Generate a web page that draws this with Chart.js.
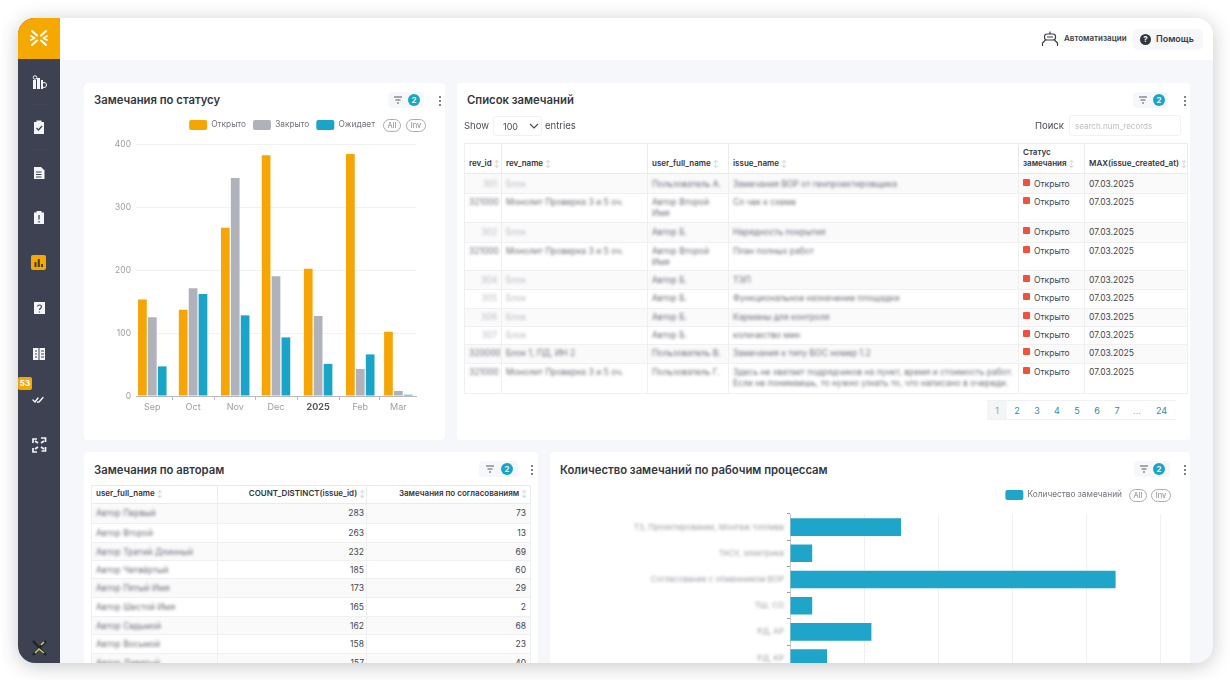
<!DOCTYPE html>
<html lang="ru"><head><meta charset="utf-8">
<script src="https://cdn.jsdelivr.net/npm/chart.js@4"></script>
<style>
html,body{margin:0;padding:0;background:#fff;width:1230px;height:680px;overflow:hidden;font-family:Inter,"Noto Sans",sans-serif;color:#33363d}
.abs,.win,.card,.wrap{position:absolute}
.win{left:18px;top:18px;width:1195px;height:645px;border-radius:17px;overflow:hidden;background:#f6f7fb;box-shadow:0 3px 20px rgba(0,0,0,.22)}
.page{position:absolute;left:-18px;top:-18px;width:1230px;height:680px}
.side{position:absolute;left:18px;top:18px;width:42px;height:645px;background:#3d4152}
.logo{position:absolute;left:18px;top:18px;width:42px;height:41px;background:#f5a800}
.top{position:absolute;left:60px;top:18px;width:1153px;height:42px;background:#fff}
.card{background:#fff;border-radius:4px;overflow:hidden}
.t{position:absolute;font-weight:600;font-size:11.300px;color:#34373e;white-space:nowrap;line-height:14px}
.pill{position:absolute;height:16px;border-radius:4px;background:#f6f7f9}
.badge{position:absolute;width:12px;height:12px;border-radius:50%;background:#1aa5c8;color:#fff;font-size:8px;font-weight:600;line-height:12px;text-align:center}
.keb{position:absolute;width:2px;height:2px;border-radius:1px;background:#55585f;box-shadow:0 4px 0 #55585f,0 8px 0 #55585f}
.txt{position:absolute;white-space:nowrap;font-size:9px;line-height:11px;color:#4a4d55}
.lg{position:absolute;height:13px;line-height:12px;box-sizing:border-box;border:1px solid #a9abb0;border-radius:7px;font-size:7.5px;color:#85878d;text-align:center}
table{border-collapse:separate;border-spacing:0;table-layout:fixed;position:absolute;font-size:8.5px;color:#44474e;background:#fff}
th{font-weight:600;text-align:left;vertical-align:bottom;padding:0 3px 4px 4px;font-size:8px;color:#33363d;border-bottom:1.5px solid #eaebed;border-right:1px solid #eaebed;border-top:1px solid #eaebed;line-height:11px;white-space:nowrap;overflow:hidden;box-sizing:border-box}
th:first-child,td:first-child{border-left:1px solid #eeeff0}
td{padding:0 4px;vertical-align:top;border-bottom:1px solid #f0f0f2;border-right:1px solid #eeeff0;line-height:11px;box-sizing:border-box;overflow:hidden}
tr.s td{background:#fafafb}
.so{color:#c9cbd0;font-size:7px;font-weight:400;margin-left:2px}
.b{filter:blur(1.8px);color:#6b6e76;display:block}
.b.l{color:#b8bac0}
.st{display:inline-block;width:7px;height:7px;border-radius:1px;background:#f0523d;margin-right:4px;vertical-align:1px}
.pg{position:absolute;top:400px;height:20px;width:20px;line-height:20px;text-align:center;font-size:9px;color:#2e8aa3;background:#fff;border-top:1px solid #f0f1f3;border-bottom:1px solid #f0f1f3;box-sizing:border-box}
</style></head><body>
<div class="win"><div class="page">
<div class="side"></div>
<div class="logo"></div>
<div class="top"></div>
<svg class="abs" style="left:18px;top:18px" width="42" height="645" viewBox="18 18 42 645" fill="none">
 <g stroke="#fff" stroke-width="2.400" stroke-linecap="round" stroke-linejoin="round">
  <path d="M32 31l5 4.500M46 31l-5 4.500M32 45l5-4.500M46 45l-5-4.500M31 36l3.500 2-3.500 2M47 36l-3.500 2 3.500 2" stroke-width="2"/>
 </g>
 <g fill="#f4f5f8">
  <circle cx="35" cy="77.500" r="1.800" fill="none" stroke="#f4f5f8"/><rect x="33" y="80" width="3" height="9"/><rect x="37" y="78" width="3" height="11"/><rect x="41" y="80" width="2" height="9"/><circle cx="44" cy="85" r="2.500" fill="none" stroke="#f4f5f8"/>
  <path d="M34 122h2.500v-1.500h5V122H44v12H34z"/>
  <path d="M34 167h7l3.500 3.500V179H34z"/>
  <path d="M34 212.500h2.500V211h5v1.500H44V224H34z"/>
  <path d="M34 302h11v12H34z"/>
  <path d="M33 348h5.500v12H33zM39.500 348H45v12h-5.500z"/>
  <rect x="31" y="255" width="15" height="15" rx="2" fill="#f5a800"/>
  <rect x="34.500" y="262" width="2" height="5" fill="#4a3b10"/><rect x="37.800" y="259" width="2" height="8" fill="#4a3b10"/><rect x="41" y="264" width="2" height="3" fill="#4a3b10"/>
  <rect x="18" y="377" width="14" height="13" rx="2" fill="#f5a800"/>
 </g>
 <path d="M36.500 128l2 2 3.500-4" stroke="#3d4152" stroke-width="1.300"/>
 <path d="M36 172h5.500M36 174.500h5.500M36 177h5.500" stroke="#3d4152" stroke-width="1"/>
 <path d="M39 215v4.500M39 221v1.500" stroke="#3d4152" stroke-width="1.300"/>
 <path d="M37.500 306.500c.3-2 4-2 4 .2 0 1.600-2 1.500-2 3.300M39.500 311.500v1" stroke="#3d4152" stroke-width="1.200"/>
 <path d="M35 351h2M35 354h2M35 357h2M41 351h3M41 354h3M41 357h3" stroke="#3d4152" stroke-width="1"/>
 <path d="M33 400l2 2 3-4M39 402l4-4.500M37.500 402l.3.300" stroke="#fff" stroke-width="1.300" stroke-linecap="round"/>
 <path d="M33 443v-4h4M41 438h4.500v4M45.500 447v4h-4M37 452h-4v-4M35 441l3 2M44 441l-3 2M35 449l3-2M44 449l-3-2" stroke="#f4f5f8" stroke-width="1.700"/>
 <path d="M33 641l13 14M46 641l-13 14" stroke="#1f2028" stroke-width="2.200"/>
 <path d="M35 653l4-4 5 4M44 642l-3 3" stroke="#c6c96a" stroke-width="1.600"/>
 <path d="M30 104.500h18M30 149.500h18M30 195h18M30 240h18M30 285h18M30 331h18M30 422h18" stroke="#414556" stroke-width="1"/>
</svg>
<div class="txt" style="left:18px;top:378px;width:14px;text-align:center;font-size:8px;font-weight:700;color:#fff">53</div>

<svg class="abs" style="left:1040px;top:29px" width="20" height="20" fill="none" stroke="#3a3d44" stroke-width="1.200"><rect x="4.500" y="5" width="11" height="6" rx="2.500"/><path d="M10 5V2.500M2.500 17v-3l3-3M17.500 17v-3l-3-3M7 8h6"/></svg>
<div class="txt" style="left:1064px;top:33px;font-size:8px;font-weight:600;color:#3a3d44">Автоматизации</div>
<div class="abs" style="left:1133px;top:29px;width:70px;height:21px;background:#f6f7fa;border-radius:5px"></div>
<div class="abs" style="left:1140px;top:34px;width:11px;height:11px;border-radius:50%;background:#33353b;color:#fff;font-size:8px;font-weight:700;line-height:11px;text-align:center">?</div>
<div class="txt" style="left:1156px;top:33px;font-size:9px;font-weight:600;color:#3a3d44">Помощь</div>

<div class="card" style="left:84px;top:83px;width:361px;height:357px"></div>
<div class="card" style="left:457px;top:83px;width:733px;height:357px"></div>
<div class="card" style="left:84px;top:452px;width:454px;height:220px"></div>
<div class="card" style="left:550px;top:452px;width:640px;height:220px"></div>

<div class="t" style="left:94px;top:93px">Замечания по статусу</div>
<div class="t" style="left:467px;top:93px">Список замечаний</div>
<div class="t" style="left:94px;top:463px">Замечания по авторам</div>
<div class="t" style="left:560px;top:463px">Количество замечаний по рабочим процессам</div>

<div id="widgets"></div>

<div class="wrap" style="left:84px;top:100px;width:340px;height:322px"><canvas id="statusChart"></canvas></div>
<div class="lg" style="left:383px;top:119px;width:18px">All</div>
<div class="lg" style="left:406px;top:119px;width:20px">Inv</div>

<div class="txt" style="left:464px;top:120px;font-size:9.500px">Show</div>
<div class="abs" style="left:493px;top:116px;width:49px;height:20px;border:1px solid #f1f2f4;border-radius:3px;box-sizing:border-box"></div>
<div class="txt" style="left:503px;top:121px;">100</div>
<svg class="abs" style="left:529px;top:122px" width="10" height="8" fill="none" stroke="#44474e" stroke-width="1.100"><path d="M1 2l4 4 4-4"/></svg>
<div class="txt" style="left:545px;top:120px;font-size:9.500px">entries</div>
<div class="txt" style="left:1035px;top:120px;font-size:9.500px">Поиск</div>
<div class="abs" style="left:1069px;top:115px;width:112px;height:21px;border:1px solid #f1f2f4;border-radius:3px;box-sizing:border-box"></div>
<div class="txt" style="left:1075px;top:121px;font-size:8px;color:#bcbec4">search.num_records</div>
<table id="listTable" style="left:464px;top:143px;width:724px"></table>
<div id="pager"></div>

<table id="authorTable" style="left:91px;top:485px;width:440px"></table>

<div class="wrap" style="left:550px;top:475px;width:640px;height:204px"><canvas id="processChart"></canvas></div>
<div class="lg" style="left:1129px;top:489px;width:18px">All</div>
<div class="lg" style="left:1151px;top:489px;width:20px">Inv</div>
</div></div>
<script>
const MONTHS=['Sep','Oct','Nov','Dec','2025','Feb','Mar'];
const MONTH_DAYS=[0,30,61,91,122,153,181];
const OPEN=[153,137,267,382,202,384,102];
const CLOSED=[125,171,346,190,127,43,8];
const WAITING=[47,162,128,93,51,66,2];
const STATUS_TICKS=[0,100,200,300,400];
const PROCESSES=['ТЗ, Проектирование, Монтаж топлива','ТАСУ, электрика','Согласование с обменником ВОР','ТШ, СО','РД, АР','РД, КР'];
const PROCESS_COUNTS=[75,15,220,15,55,25];
const PROCESS_TICKS=[0,50,100,150,200,250];

const AUTHORS=['Автор Первый','Автор Второй','Автор Третий Длинный','Автор Четвёртый','Автор Пятый Имя','Автор Шестой Имя','Автор Седьмой','Автор Восьмой','Автор Девятый'];
const AUTHOR_ISSUES=[283,263,232,185,173,165,162,158,157];
const AUTHOR_APPROVALS=[73,13,69,60,29,2,68,23,40];

const REV_IDS=['301','321000','302','321000','304','305','306','307','320000','321000'];
const REV_NAMES=['Блок','Монолит Проверка 3 и 5 оч.','Блок','Монолит Проверка 3 и 5 оч.','Блок','Блок','Блок','Блок','Блок 1, ПД, ИН 2','Монолит Проверка 3 и 5 оч.'];
const USERS=['Пользователь А.','Автор Второй Имя','Автор Б.','Автор Второй Имя','Автор Б.','Автор Б.','Автор Б.','Автор Б.','Пользователь В.','Пользователь Г.'];
const ISSUES=['Замечания ВОР от генпроектировщика','Сл чек к схеме','Нарядность покрытия','План полных работ','ТЭП','Функциональное назначение площадки','Карманы для контроля','количество мин','Замечания к типу ВОС номер 1.2','Здесь не хватает подрядчиков на пункт, время и стоимость работ. Если не понимаешь, то нужно узнать то, что написано в очереди.'];
const DATES=Array(10).fill('07.03.2025');
const LIST_HEIGHTS=[20,29,20,28,19,19,18,18,19,30];
const LIST_PADS=[5,3,4,3,4,3,3,3,3,3];
const AUTHOR_HEIGHTS=[20,19,18,18,19,19,18,19,19];
const PAGES=['1','2','3','4','5','6','7','...','24'];

const el=(id)=>document.getElementById(id);
const SORT='<span class="so">↕</span>';
const WIDGETS=[[388,92,36,398,414,440,96],[1133,92,35,1143,1159,1185,96],[479,461,39,490,507,532,465],[1134,461,36,1144,1159,1185,465]];
el('widgets').innerHTML=WIDGETS.map(([x,y,w,ix,bx,kx,ky])=>
 `<div class="pill" style="left:${x}px;top:${y}px;width:${w}px"></div>`+
 `<svg class="abs" style="left:${ix-5}px;top:${y+4}px" width="10" height="8" stroke="#55585f" stroke-width="1.100"><path d="M1 1h8M2.500 4h5M4 7h2"/></svg>`+
 `<div class="badge" style="left:${bx-6}px;top:${y+2}px">2</div>`+
 `<div class="keb" style="left:${kx-1}px;top:${ky}px"></div>`).join('');
const LIST_COLS=[38,146,81,290,66,103];
el('listTable').innerHTML='<colgroup>'+LIST_COLS.map(w=>`<col style="width:${w}px">`).join('')+'</colgroup>'+
 '<tr style="height:31px">'+['rev_id','rev_name','user_full_name','issue_name','Статус<br>замечания','MAX(issue_created_at)'].map(h=>`<th>${h}${SORT}</th>`).join('')+'</tr>'+
 ISSUES.map((_,i)=>{const l=(REV_NAMES[i]==='Блок')?' l':'';const p=`style="padding-top:${LIST_PADS[i]}px"`;return `<tr class="${i%2?'':'s'}" style="height:${LIST_HEIGHTS[i]}px">`+
  `<td ${p}><span class="b${l}" style="text-align:right">${REV_IDS[i]}</span></td>`+
  `<td ${p}><span class="b${l}">${REV_NAMES[i]}</span></td>`+
  `<td ${p}><span class="b">${USERS[i]}</span></td>`+
  `<td ${p}><span class="b">${ISSUES[i]}</span></td>`+
  `<td ${p}><i class="st"></i>Открыто</td>`+
  `<td ${p}>${DATES[i]}</td></tr>`}).join('');
el('pager').innerHTML=PAGES.map((p,i)=>{const x=987+i*20;return `<div class="pg" style="left:${x}px;${i?'':'background:#f4f5f6;color:#9a9da3;'}${i==7?'color:#b0b2b8;':''}${i==8?'width:29px;':''}">${p}</div>`}).join('');
el('authorTable').innerHTML='<colgroup><col style="width:127px"><col style="width:149px"><col style="width:164px"></colgroup>'+
 `<tr style="height:19px"><th>user_full_name${SORT}</th><th style="text-align:right;padding-right:1px">COUNT_DISTINCT(issue_id)${SORT}</th><th style="text-align:right">Замечания по согласованиям${SORT}</th></tr>`+
 AUTHORS.map((a,i)=>`<tr class="${i%2?'':'s'}" style="height:${AUTHOR_HEIGHTS[i]}px"><td style="padding-top:4px"><span class="b">${a}</span></td><td style="padding-top:4px;padding-right:2px;text-align:right">${AUTHOR_ISSUES[i]}</td><td style="padding-top:4px;text-align:right">${AUTHOR_APPROVALS[i]}</td></tr>`).join('');

Chart.defaults.font.family='Inter, "Noto Sans", sans-serif';
Chart.defaults.animation=false;
const nudge=(id,right,up)=>({id,afterLayout(c){c.legend.right-=right;c.legend.top-=up;}});
const legendLabels={boxWidth:18,boxHeight:10,padding:7,useBorderRadius:true,borderRadius:2,color:'#70737a',font:{size:8.3}};
const series=(label,vals,color)=>({label,data:MONTH_DAYS.map((x,i)=>({x,y:vals[i]})),backgroundColor:color,categoryPercentage:.78,barPercentage:.88});

new Chart(el('statusChart'),{type:'bar',
 data:{datasets:[series('Открыто',OPEN,'#f5a505'),series('Закрыто',CLOSED,'#afb2ba'),series('Ожидает',WAITING,'#1aa5c8')]},
 plugins:[nudge('n1',34,4)],
 options:{responsive:true,maintainAspectRatio:false,layout:{padding:{top:17,right:8}},
  plugins:{legend:{position:'top',align:'end',labels:legendLabels},tooltip:{enabled:false}},
  scales:{
   x:{type:'linear',min:-12,max:194,offset:false,
    afterBuildTicks(s){s.ticks=MONTH_DAYS.map(value=>({value}));},
    afterFit(s){s.height=26;},
    grid:{display:true,drawOnChartArea:false,tickLength:4,color:'#b8babf'},border:{color:'#b8babf'},
    ticks:{autoSkip:false,maxRotation:0,padding:2,callback:v=>MONTHS[MONTH_DAYS.indexOf(v)],
     font:c=>({size:9,weight:c.tick&&c.tick.value===MONTH_DAYS[4]?'700':'400'}),
     color:c=>c.tick&&c.tick.value===MONTH_DAYS[4]?'#55585f':'#9a9da4'}},
   y:{min:0,max:400,afterBuildTicks(s){s.ticks=STATUS_TICKS.map(value=>({value}));},
    afterFit(s){s.width=52;},
    grid:{color:'#f1f2f4',tickLength:4,drawTicks:false},border:{display:false},
    ticks:{padding:5,color:'#9a9da4',font:{size:8.5}}}
  }}});

const blurLabels={id:'blurLabels',beforeDraw(c){const s=c.scales.y;if(s.__b)return;s.__b=1;const d=s.drawLabels;s.drawLabels=function(a){c.ctx.save();c.ctx.filter='blur(1.6px)';d.call(this,a);c.ctx.restore();};}};
new Chart(el('processChart'),{type:'bar',
 data:{labels:PROCESSES,datasets:[{label:'Количество замечаний',data:PROCESS_COUNTS,backgroundColor:'#1fa5c9',categoryPercentage:.67,barPercentage:1}]},
 plugins:[nudge('n2',31,4),blurLabels],
 options:{indexAxis:'y',responsive:true,maintainAspectRatio:false,layout:{padding:{top:12,right:30}},
  plugins:{legend:{position:'top',align:'end',labels:legendLabels},tooltip:{enabled:false}},
  scales:{
   x:{min:0,max:250,afterBuildTicks(s){s.ticks=PROCESS_TICKS.map(value=>({value}));},
    afterFit(s){s.height=0;},grid:{color:'#eef0f3',drawTicks:false},border:{display:false},ticks:{display:false}},
   y:{afterFit(s){s.width=240;},grid:{drawOnChartArea:false,color:'#9a9da4',tickLength:3},border:{color:'#c9cbd0'},
    ticks:{autoSkip:false,padding:3,color:'#9a9da4',font:{size:8}}}
  }}});
</script>
</body></html>
